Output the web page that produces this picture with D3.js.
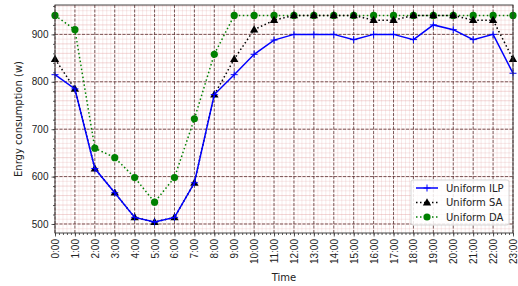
<!DOCTYPE html>
<html>
<head>
<meta charset="utf-8">
<script src="https://cdn.jsdelivr.net/npm/d3@7"></script>
<style>
body { margin: 0; background: #fff; }
svg { font-family: "DejaVu Sans", sans-serif; }
</style>
</head>
<body>
<div id="chart"></div>
<script>
const hours = d3.range(24).map(h => h + ":00");
const ilp = [815, 785, 617, 566, 514, 504, 514, 587, 773, 815, 858, 888, 900, 900, 900, 889, 900, 900, 889, 920, 910, 889, 900, 818];
const sa = [848, 785, 617, 566, 514, 504, 514, 587, 773, 848, 910, 930, 940, 940, 940, 940, 930, 930, 940, 940, 940, 930, 930, 848];
const da = [940, 910, 660, 640, 598, 546, 598, 722, 858, 940, 940, 940, 940, 940, 940, 940, 940, 940, 940, 940, 940, 940, 940, 940];
const yTicks = [500, 600, 700, 800, 900];

const width = 518, height = 286;
const margin = {top: 5, right: 5, bottom: 53, left: 55};

const svg = d3.select("#chart").append("svg")
    .attr("width", width)
    .attr("height", height);

const x = d3.scaleLinear().domain([0, 23]).range([margin.left, width - margin.right]);
const y = d3.scaleLinear().domain([481, 962]).range([height - margin.bottom, margin.top]);

const g = svg.append("g");

// minor grid
g.append("g").selectAll("line")
    .data(d3.range(0, 23.001, 0.2))
    .enter().append("line")
    .attr("x1", d => x(d)).attr("x2", d => x(d))
    .attr("y1", y.range()[0]).attr("y2", y.range()[1])
    .attr("stroke", "#e09a9a").attr("stroke-opacity", 0.28).attr("stroke-width", 0.8);
g.append("g").selectAll("line")
    .data(d3.range(490, 962, 10))
    .enter().append("line")
    .attr("y1", d => y(d)).attr("y2", d => y(d))
    .attr("x1", x.range()[0]).attr("x2", x.range()[1])
    .attr("stroke", "#e09a9a").attr("stroke-opacity", d => d % 20 === 0 ? 0.5 : 0.28).attr("stroke-width", 0.8);

// major grid
g.append("g").selectAll("line")
    .data(d3.range(24))
    .enter().append("line")
    .attr("x1", d => x(d)).attr("x2", d => x(d))
    .attr("y1", y.range()[0]).attr("y2", y.range()[1])
    .attr("stroke", "#5a3535").attr("stroke-width", 0.8).attr("stroke-dasharray", "3,1.5");
g.append("g").selectAll("line")
    .data(yTicks)
    .enter().append("line")
    .attr("y1", d => y(d)).attr("y2", d => y(d))
    .attr("x1", x.range()[0]).attr("x2", x.range()[1])
    .attr("stroke", "#5a3535").attr("stroke-width", 0.8).attr("stroke-dasharray", "3,1.5");

const line = d3.line().x((d, i) => x(i)).y(d => y(d));

// DA
svg.append("path").datum(da).attr("d", line)
    .attr("fill", "none").attr("stroke", "green").attr("stroke-width", 1.5).attr("stroke-dasharray", "1.5,2.5");
svg.append("g").selectAll("circle").data(da).enter().append("circle")
    .attr("cx", (d, i) => x(i)).attr("cy", d => y(d)).attr("r", 3.6).attr("fill", "green");

// SA
svg.append("path").datum(sa).attr("d", line)
    .attr("fill", "none").attr("stroke", "black").attr("stroke-width", 1.5).attr("stroke-dasharray", "1.5,2.5");
svg.append("g").selectAll("path").data(sa).enter().append("path")
    .attr("d", d3.symbol(d3.symbolTriangle, 30))
    .attr("transform", (d, i) => `translate(${x(i)},${y(d) + 0.5})`)
    .attr("fill", "black");

// ILP
svg.append("path").datum(ilp).attr("d", line)
    .attr("fill", "none").attr("stroke", "blue").attr("stroke-width", 1.5);
svg.append("g").selectAll("path").data(ilp).enter().append("path")
    .attr("d", "M-3.5,0H3.5M0,-3.5V3.5")
    .attr("transform", (d, i) => `translate(${x(i)},${y(d)})`)
    .attr("stroke", "blue").attr("stroke-width", 1);

// axes
const xAxis = svg.append("g")
    .attr("transform", `translate(0,${y.range()[0]})`)
    .call(d3.axisBottom(x).tickValues(d3.range(24)).tickFormat(i => hours[i]).tickSize(3.5));
xAxis.append("g").call(d3.axisBottom(x).tickValues(d3.range(0, 23.001, 0.2)).tickFormat("").tickSize(2));
xAxis.selectAll("text")
    .attr("transform", "rotate(-90)")
    .attr("text-anchor", "end")
    .attr("x", -6).attr("y", 0).attr("dy", "0.35em")
    .attr("font-size", 10).attr("fill", "#222");

const yAxis = svg.append("g")
    .attr("transform", `translate(${x.range()[0]},0)`)
    .call(d3.axisLeft(y).tickValues(yTicks).tickSize(3.5));
yAxis.append("g").call(d3.axisLeft(y).tickValues(d3.range(500, 962, 20)).tickFormat("").tickSize(2));
yAxis.selectAll("text").attr("font-size", 10).attr("fill", "#222");

svg.selectAll(".domain").remove();
svg.selectAll(".tick line").attr("stroke", "#333").attr("stroke-width", 0.8);

svg.append("rect")
    .attr("x", x.range()[0]).attr("y", y.range()[1])
    .attr("width", x.range()[1] - x.range()[0])
    .attr("height", y.range()[0] - y.range()[1])
    .attr("fill", "none").attr("stroke", "#333").attr("stroke-width", 0.9);

svg.append("text")
    .attr("x", (x.range()[0] + x.range()[1]) / 2).attr("y", 281)
    .attr("text-anchor", "middle").attr("font-size", 10).attr("fill", "#222")
    .text("Time");
svg.append("text")
    .attr("transform", `translate(22,${(y.range()[0] + y.range()[1]) / 2}) rotate(-90)`)
    .attr("text-anchor", "middle").attr("font-size", 10).attr("fill", "#222")
    .text("Enrgy consumption (w)");

// legend
const leg = svg.append("g").attr("transform", "translate(411,180)");
leg.append("rect").attr("width", 98).attr("height", 45).attr("rx", 2)
    .attr("fill", "white").attr("fill-opacity", 0.85).attr("stroke", "#ccc").attr("stroke-width", 0.8);
const items = [
    {name: "Uniform ILP", color: "blue", dash: null, mark: "cross"},
    {name: "Uniform SA", color: "black", dash: "1.5,2.5", mark: "tri"},
    {name: "Uniform DA", color: "green", dash: "1.5,2.5", mark: "circle"}
];
items.forEach((it, i) => {
    const yy = 8 + i * 14.5;
    leg.append("line").attr("x1", 5).attr("x2", 27).attr("y1", yy).attr("y2", yy)
        .attr("stroke", it.color).attr("stroke-width", 1.5).attr("stroke-dasharray", it.dash);
    if (it.mark === "cross") {
        leg.append("path").attr("d", "M-3.5,0H3.5M0,-3.5V3.5").attr("transform", `translate(16,${yy})`)
            .attr("stroke", it.color).attr("stroke-width", 1);
    } else if (it.mark === "tri") {
        leg.append("path").attr("d", d3.symbol(d3.symbolTriangle, 30)).attr("transform", `translate(16,${yy + 0.5})`)
            .attr("fill", it.color);
    } else {
        leg.append("circle").attr("cx", 16).attr("cy", yy).attr("r", 3.6).attr("fill", it.color);
    }
    leg.append("text").attr("x", 35).attr("y", yy).attr("dy", "0.35em")
        .attr("font-size", 10).attr("fill", "#222").text(it.name);
});
</script>
</body>
</html>
